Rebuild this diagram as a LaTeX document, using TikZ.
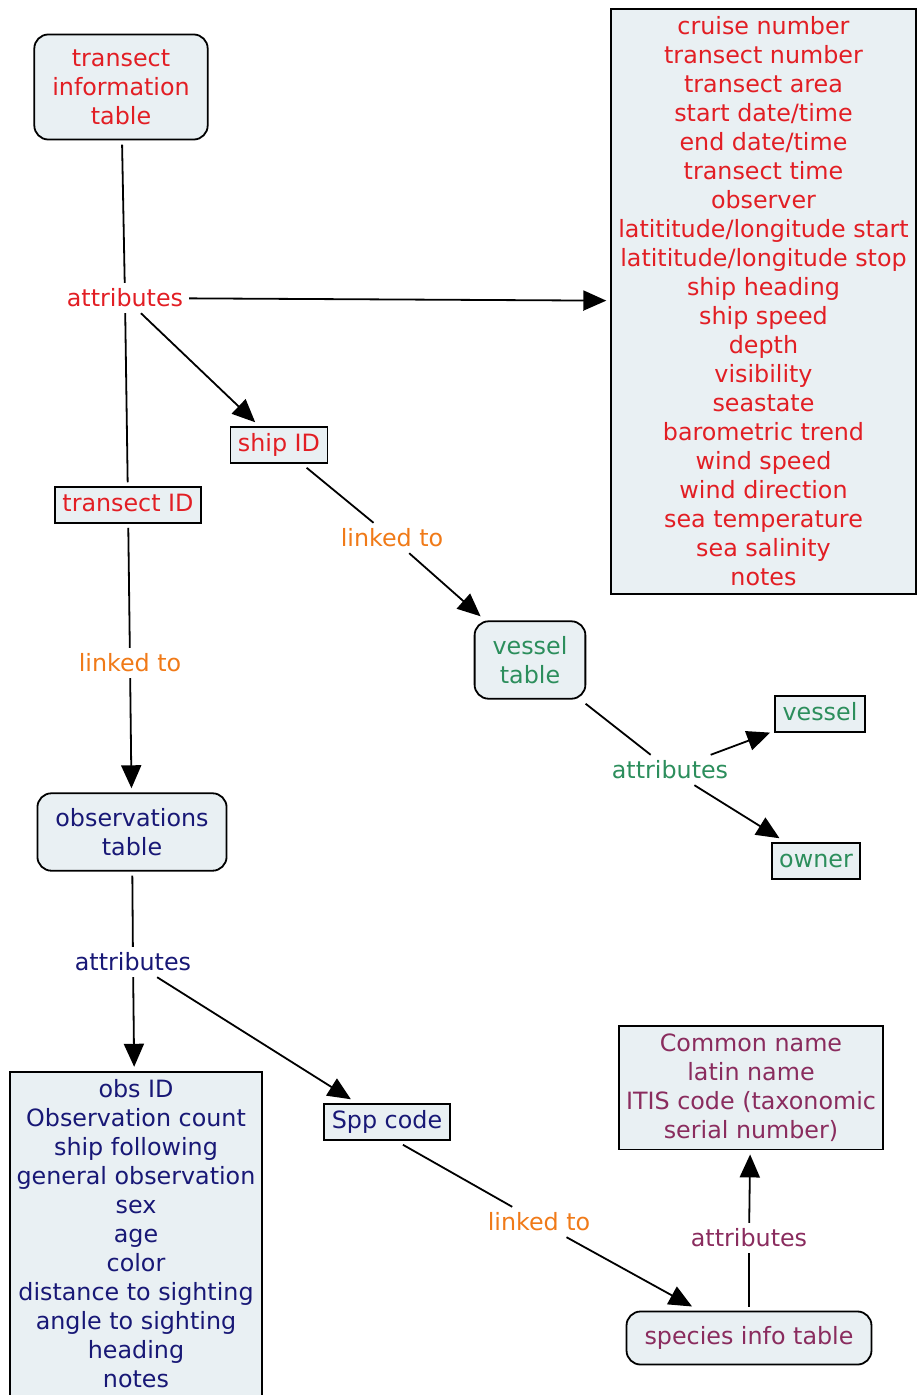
\documentclass[tikz,border=0pt]{standalone}
\usepackage{fontspec}
\setmainfont{DejaVu Sans}
\usetikzlibrary{arrows.meta}
\definecolor{tred}{RGB}{226,30,36}
\definecolor{tgreen}{RGB}{44,142,92}
\definecolor{tnavy}{RGB}{24,24,118}
\definecolor{tpurple}{RGB}{138,44,94}
\definecolor{torange}{RGB}{240,122,24}
\definecolor{boxfill}{RGB}{233,240,243}
\begin{document}
\begin{tikzpicture}[x=1pt,y=-1pt,font=\fontsize{23.8}{29}\selectfont,line width=1.8pt,
  tbl/.style={draw,rounded corners=14pt,fill=boxfill,align=center,inner xsep=18pt,inner ysep=15pt,outer sep=5pt},
  attbox/.style={draw,fill=boxfill,align=center,inner xsep=7pt,inner ysep=8pt,outer sep=5pt},
  keybox/.style={draw,fill=boxfill,inner xsep=7.5pt,inner ysep=6.5pt,text height=17.5pt,text depth=5pt,outer sep=5pt},
  link/.style={inner sep=3pt,outer sep=3pt},
  arr/.style={-{Triangle[length=23pt,width=20pt]}}]
\useasboundingbox (0,0) rectangle (916,1395);

% transect information table
\node[tbl,text=tred] (tinfo) at (121,87) {transect\\information\\table};
\node[link,text=tred] (attrA) at (125,298) {attributes};
\node[attbox,text=tred] (tattr) at (763.5,301.5) {cruise number\\transect number\\transect area\\start date/time\\end date/time\\transect time\\observer\\latititude/longitude start\\latititude/longitude stop\\ship heading\\ship speed\\depth\\visibility\\seastate\\barometric trend\\wind speed\\wind direction\\sea temperature\\sea salinity\\notes};
\node[keybox,text=tred] (shipid) at (279,445) {ship ID};
\node[keybox,text=tred] (tid) at (128,505) {transect ID};

% vessel table
\node[link,text=torange] (linkA) at (392,538) {linked to};
\node[tbl,text=tgreen] (vtable) at (530,660) {vessel\\table};
\node[link,text=tgreen] (attrB) at (670,770) {attributes};
\node[keybox,text=tgreen] (vessel) at (820,714) {vessel};
\node[keybox,text=tgreen] (owner) at (816,861) {owner};

% observations table
\node[link,text=torange] (linkB) at (130,663) {linked to};
\node[tbl,text=tnavy] (otable) at (132,832) {observations\\table};
\node[link,text=tnavy] (attrC) at (133,962) {attributes};
\node[attbox,text=tnavy] (oattr) at (136,1234) {obs ID\\Observation count\\ship following\\general observation\\sex\\age\\color\\distance to sighting\\angle to sighting\\heading\\notes};
\node[keybox,text=tnavy] (spp) at (387,1122) {Spp code};

% species info table
\node[link,text=torange] (linkC) at (539,1222) {linked to};
\node[attbox,text=tpurple] (sattr) at (751,1087.5) {Common name\\latin name\\ITIS code (taxonomic\\serial number)};
\node[link,text=tpurple] (attrD) at (749,1238) {attributes};
\node[tbl,text=tpurple] (stable) at (749,1338) {species info table};

\draw (tinfo) -- (attrA);
\draw (attrA) -- (tid);
\draw[arr] (attrA) -- (tattr);
\draw[arr] (attrA) -- (shipid);
\draw (shipid) -- (linkA);
\draw[arr] (linkA) -- (vtable);
\draw (vtable) -- (attrB);
\draw[arr] (attrB) -- (vessel);
\draw[arr] (attrB) -- (owner);
\draw (tid) -- (linkB);
\draw[arr] (linkB) -- (otable);
\draw (otable) -- (attrC);
\draw[arr] (attrC) -- (oattr);
\draw[arr] (attrC) -- (spp);
\draw (spp.305) -- (linkC);
\draw[arr] (linkC) -- (stable);
\draw (stable) -- (attrD);
\draw[arr] (attrD) -- (sattr);
\end{tikzpicture}
\end{document}
